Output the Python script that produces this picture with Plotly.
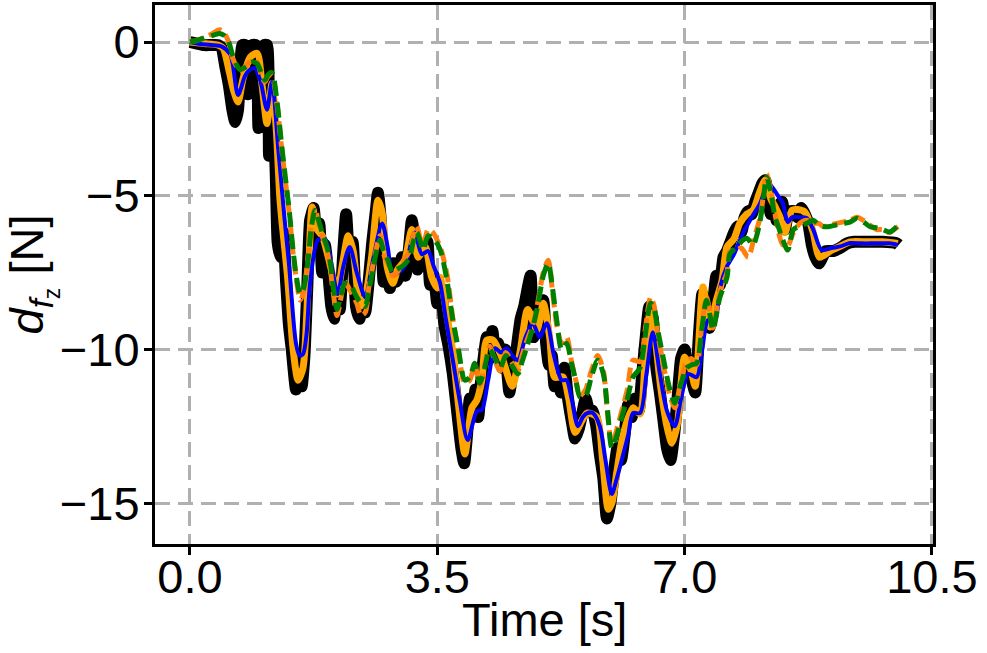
import plotly.graph_objects as go

# ---------------- data ----------------
black_t = [0.0, 0.1, 0.2, 0.3, 0.4, 0.45, 0.5, 0.55, 0.6, 0.64, 0.68, 0.71, 0.74, 0.78, 0.82, 0.85, 0.88, 0.93,
           0.97, 1.0, 1.02, 1.05, 1.09, 1.12, 1.15, 1.2, 1.24, 1.28, 1.32, 1.36, 1.4, 1.44, 1.5, 1.54, 1.58, 1.62,
           1.66, 1.7, 1.75, 1.79, 1.83, 1.87, 1.91, 1.96, 2.0, 2.04, 2.08, 2.12, 2.17, 2.21, 2.25, 2.3, 2.35, 2.4,
           2.44, 2.48, 2.52, 2.58, 2.63, 2.66, 2.7, 2.74, 2.78, 2.83, 2.88, 2.92, 2.96, 3.0, 3.05, 3.1, 3.14, 3.18,
           3.22, 3.27, 3.31, 3.36, 3.4, 3.45, 3.5, 3.55, 3.6, 3.66, 3.72, 3.78, 3.84, 3.88, 3.92, 3.96, 4.0, 4.04,
           4.08, 4.12, 4.16, 4.2, 4.24, 4.28, 4.32, 4.36, 4.42, 4.46, 4.52, 4.57, 4.62, 4.68, 4.73, 4.78, 4.82,
           4.86, 4.9, 4.95, 5.0, 5.04, 5.08, 5.12, 5.16, 5.2, 5.25, 5.3, 5.35, 5.4, 5.45, 5.5, 5.55, 5.6, 5.65,
           5.7, 5.75, 5.8, 5.85, 5.9, 5.95, 6.0, 6.05, 6.1, 6.15, 6.2, 6.25, 6.3, 6.35, 6.4, 6.45, 6.5, 6.55, 6.6,
           6.65, 6.7, 6.75, 6.8, 6.85, 6.9, 6.95, 7.0, 7.05, 7.1, 7.15, 7.2, 7.25, 7.3, 7.35, 7.4, 7.45, 7.5,
           7.55, 7.6, 7.65, 7.7, 7.75, 7.8, 7.85, 7.9, 7.95, 8.0, 8.05, 8.1, 8.14, 8.18, 8.22, 8.26, 8.3, 8.34,
           8.38, 8.42, 8.46, 8.5, 8.55, 8.6, 8.65, 8.7, 8.75, 8.8, 8.85, 8.9, 8.95, 9.0, 9.1, 9.2, 9.3, 9.4, 9.5,
           9.6, 9.8, 10.0, 10.03]
black_v = [0.0, -0.05, -0.1, -0.1, -0.1, -0.2, -0.8, -1.4, -2.2, -2.6, -2.2, -1.0, -0.1, -0.1, -1.7, -1.2, -0.1,
           -0.1, -2.8, -2.4, -2.0, -0.1, -0.1, -3.7, -3.2, -3.6, -6.5, -7.0, -6.2, -7.8, -9.2, -10.0, -11.3, -10.7,
           -11.2, -10.2, -8.0, -5.8, -5.4, -6.5, -5.9, -7.5, -6.6, -7.6, -8.6, -9.0, -8.0, -8.7, -6.8, -5.6, -6.8,
           -6.5, -8.6, -9.0, -8.2, -8.8, -8.0, -6.5, -5.5, -4.9, -5.8, -7.8, -7.2, -8.0, -7.2, -7.8, -7.6, -7.0,
           -7.6, -6.7, -5.8, -6.5, -7.4, -6.9, -6.9, -6.5, -7.9, -7.6, -8.5, -8.0, -9.2, -9.9, -10.8, -12.0, -13.2,
           -13.7, -12.8, -11.6, -12.2, -11.3, -12.2, -11.0, -10.2, -9.6, -10.3, -9.4, -10.2, -9.8, -10.6, -10.0,
           -11.4, -10.6, -10.0, -9.0, -8.6, -8.0, -7.6, -9.6, -9.0, -8.8, -8.4, -9.8, -10.5, -10.2, -11.2, -10.9,
           -11.4, -10.6, -11.6, -12.3, -12.9, -12.6, -12.1, -11.6, -12.0, -12.0, -12.5, -13.4, -14.2, -15.5, -15.0,
           -14.0, -13.2, -13.6, -12.8, -11.8, -12.2, -11.6, -12.0, -10.8, -9.6, -8.6, -9.0, -10.6, -11.4, -12.3,
           -13.2, -13.6, -12.8, -11.6, -10.3, -10.0, -10.8, -11.0, -11.4, -9.6, -8.2, -9.0, -9.3, -8.6, -7.6, -7.9,
           -7.0, -6.8, -6.5, -6.2, -6.0, -6.2, -5.7, -5.5, -5.6, -5.2, -4.9, -4.6, -4.5, -5.0, -5.6, -5.4, -5.8,
           -5.3, -5.2, -6.1, -5.6, -5.5, -5.5, -5.7, -5.4, -5.6, -5.9, -6.6, -7.0, -7.2, -7.0, -6.8, -6.8, -6.7,
           -6.55, -6.5, -6.5, -6.5, -6.5, -6.55, -6.6]

orange_t = [0.0, 0.2, 0.4, 0.47, 0.55, 0.62, 0.68, 0.75, 0.85, 0.95, 1.02, 1.09, 1.16, 1.22, 1.27, 1.3, 1.38,
            1.46, 1.53, 1.6, 1.67, 1.73, 1.8, 1.87, 2.01, 2.08, 2.16, 2.24, 2.31, 2.41, 2.48, 2.57, 2.66, 2.72,
            2.79, 2.87, 2.94, 3.04, 3.14, 3.23, 3.33, 3.42, 3.5, 3.54, 3.63, 3.72, 3.8, 3.89, 3.99, 4.06, 4.13,
            4.2, 4.29, 4.42, 4.56, 4.67, 4.78, 4.91, 5.0, 5.09, 5.16, 5.28, 5.36, 5.45, 5.55, 5.62, 5.76, 5.84,
            5.92, 5.97, 6.04, 6.11, 6.19, 6.27, 6.37, 6.44, 6.51, 6.58, 6.66, 6.75, 6.82, 6.9, 7.0, 7.08, 7.15,
            7.26, 7.36, 7.45, 7.53, 7.6, 7.7, 7.78, 7.88, 7.97, 8.06, 8.14, 8.22, 8.29, 8.35, 8.42, 8.52, 8.6,
            8.7, 8.76, 8.82, 8.91, 9.06, 9.2, 9.34, 9.6, 9.8, 10.02]
orange_v = [0.0, -0.05, -0.1, -0.2, -0.9, -1.6, -1.95, -1.2, -0.5, -0.37, -1.4, -2.65, -1.35, -2.8, -5.0, -5.8,
            -7.6, -10.0, -11.0, -10.6, -8.0, -5.37, -6.1, -6.3, -7.5, -8.2, -7.2, -6.3, -6.8, -8.6, -8.3, -7.0,
            -5.15, -5.56, -7.3, -7.85, -7.4, -7.1, -6.1, -7.0, -6.67, -7.65, -8.0, -7.65, -8.8, -10.1, -11.8,
            -13.4, -11.9, -11.65, -11.0, -9.7, -9.7, -10.3, -11.2, -10.1, -8.7, -9.37, -8.5, -9.6, -10.9, -10.9,
            -11.6, -12.7, -12.3, -12.07, -12.2, -13.6, -15.2, -15.0, -14.0, -13.0, -12.3, -11.9, -12.1, -10.4,
            -8.8, -9.6, -11.2, -12.5, -13.05, -12.4, -10.25, -10.6, -11.2, -7.97, -9.27, -8.4, -7.75, -6.67, -6.4,
            -5.9, -5.6, -5.47, -4.9, -4.49, -5.1, -5.4, -5.69, -6.2, -5.47, -5.45, -5.53, -5.8, -6.2, -7.0, -6.8,
            -6.65, -6.5, -6.5, -6.5, -6.55]

blue_t = [0.0, 0.1, 0.3, 0.45, 0.57, 0.68, 0.78, 0.85, 0.92, 1.0, 1.09, 1.16, 1.25, 1.34, 1.4, 1.5, 1.55, 1.6,
          1.65, 1.7, 1.81, 1.91, 2.0, 2.09, 2.17, 2.26, 2.36, 2.48, 2.58, 2.72, 2.8, 2.87, 2.95, 3.04, 3.18, 3.28,
          3.37, 3.45, 3.54, 3.62, 3.72, 3.82, 3.93, 4.06, 4.13, 4.22, 4.32, 4.4, 4.48, 4.56, 4.64, 4.75, 4.85,
          4.95, 5.05, 5.15, 5.26, 5.33, 5.4, 5.49, 5.56, 5.62, 5.7, 5.8, 5.88, 5.97, 6.04, 6.11, 6.2, 6.27, 6.37,
          6.46, 6.55, 6.65, 6.75, 6.86, 6.95, 7.05, 7.17, 7.25, 7.33, 7.43, 7.5, 7.6, 7.7, 7.83, 7.95, 8.07,
          8.18, 8.25, 8.32, 8.39, 8.46, 8.52, 8.59, 8.66, 8.73, 8.82, 8.94, 9.08, 9.2, 9.34, 9.5, 9.7, 9.9, 10.02]
blue_v = [0.0, -0.05, -0.1, -0.15, -0.4, -1.72, -1.1, -0.9, -0.85, -1.3, -2.2, -1.3, -3.5, -5.8, -7.2, -9.8,
          -10.2, -10.15, -9.5, -7.85, -6.44, -6.4, -7.2, -8.2, -7.3, -6.67, -7.5, -8.3, -7.2, -5.9, -6.7, -7.6,
          -7.5, -7.3, -6.2, -6.9, -6.8, -7.3, -7.85, -9.0, -10.35, -11.7, -12.95, -12.0, -11.97, -11.0, -9.96,
          -10.1, -9.96, -10.2, -10.35, -9.6, -9.15, -9.6, -9.15, -10.2, -11.0, -11.0, -11.6, -12.5, -12.2,
          -12.07, -12.07, -12.5, -13.6, -14.7, -14.2, -13.6, -12.8, -12.07, -12.07, -10.8, -9.44, -10.8, -12.0,
          -12.5, -11.6, -10.8, -10.9, -10.0, -9.05, -9.05, -8.0, -7.3, -6.9, -6.2, -5.7, -5.24, -4.6, -4.75,
          -5.0, -5.24, -5.86, -5.7, -5.69, -5.7, -5.73, -6.1, -6.77, -6.7, -6.65, -6.54, -6.55, -6.55, -6.55, -6.6]

green_t = [0.0, 0.1, 0.19, 0.3, 0.42, 0.48, 0.54, 0.6, 0.66, 0.71, 0.8, 0.88, 0.95, 1.01, 1.06, 1.11, 1.16, 1.23,
           1.29, 1.35, 1.41, 1.46, 1.51, 1.56, 1.61, 1.67, 1.72, 1.77, 1.82, 1.87, 1.93, 1.98, 2.03, 2.08, 2.13,
           2.19, 2.27, 2.36, 2.42, 2.48, 2.53, 2.57, 2.63, 2.69, 2.74, 2.8, 2.87, 2.93, 3.0, 3.05, 3.11, 3.16,
           3.21, 3.26, 3.3, 3.37, 3.44, 3.51, 3.56, 3.64, 3.72, 3.8, 3.89, 3.96, 4.03, 4.1, 4.17, 4.24, 4.32, 4.39,
           4.47, 4.55, 4.64, 4.7, 4.77, 4.85, 4.92, 5.0, 5.07, 5.13, 5.19, 5.26, 5.33, 5.4, 5.46, 5.52, 5.6, 5.68,
           5.77, 5.85, 5.91, 5.97, 6.04, 6.11, 6.19, 6.27, 6.37, 6.44, 6.52, 6.57, 6.62, 6.7, 6.78, 6.86, 6.95,
           7.03, 7.1, 7.17, 7.24, 7.31, 7.36, 7.4, 7.5, 7.6, 7.64, 7.72, 7.8, 7.88, 7.97, 8.02, 8.07, 8.12, 8.16,
           8.22, 8.28, 8.34, 8.39, 8.46, 8.54, 8.63, 8.73, 8.82, 8.9, 8.96, 9.05, 9.15, 9.25, 9.34, 9.44, 9.53,
           9.62, 9.72, 9.8, 9.9, 9.96, 10.02]
green_v = [0.0, 0.05, 0.12, 0.2, 0.28, 0.22, 0.05, -0.4, -0.75, -0.9, -0.8, -0.65, -0.7, -1.0, -1.24, -1.05,
           -1.0, -1.9, -3.2, -4.4, -5.6, -6.8, -7.7, -8.2, -8.0, -7.1, -6.0, -5.47, -5.8, -6.2, -6.6, -7.1, -8.0,
           -8.7, -8.3, -7.85, -7.9, -8.3, -8.5, -8.6, -8.1, -7.65, -6.9, -6.44, -6.8, -7.1, -7.5, -7.4, -7.3,
           -7.2, -7.0, -6.5, -6.2, -6.5, -6.77, -6.3, -6.4, -6.6, -6.9, -7.8, -9.05, -10.0, -11.0, -10.9, -10.45,
           -11.1, -10.6, -10.0, -10.3, -10.6, -10.2, -10.5, -10.8, -10.4, -9.9, -9.3, -8.6, -7.6, -7.2, -8.0,
           -9.05, -10.0, -9.8, -10.45, -11.0, -11.55, -11.5, -10.9, -10.35, -10.8, -12.0, -13.2, -12.8, -12.2,
           -11.6, -10.9, -10.6, -9.6, -8.5, -8.7, -9.37, -10.3, -11.2, -11.75, -11.1, -10.6, -10.5, -10.45, -9.4,
           -8.4, -8.9, -9.37, -8.3, -7.65, -6.9, -6.7, -6.5, -6.38, -6.6, -6.3, -5.8, -5.0, -4.39, -4.9, -5.69,
           -6.1, -6.44, -6.77, -6.1, -6.0, -5.9, -5.8, -5.95, -6.0, -6.0, -5.95, -5.9, -5.86, -5.73, -5.85, -6.0,
           -6.05, -6.1, -6.18, -6.1, -5.95]

orange_dash_t = [0.0, 0.1, 0.2, 0.3, 0.42, 0.48, 0.54, 0.6, 0.66, 0.71, 0.8, 0.88, 0.95, 1.01, 1.06, 1.11, 1.16,
                 1.23, 1.29, 1.35, 1.41, 1.46, 1.51, 1.56, 1.61, 1.67, 1.72, 1.77, 1.82, 1.87, 1.93, 1.98, 2.03,
                 2.08, 2.13, 2.19, 2.27, 2.36, 2.42, 2.48, 2.53, 2.57, 2.63, 2.69, 2.74, 2.8, 2.87, 2.93, 3.0,
                 3.05, 3.11, 3.16, 3.21, 3.26, 3.3, 3.37, 3.44, 3.51, 3.56, 3.64, 3.72, 3.8, 3.89, 3.96, 4.03,
                 4.1, 4.17, 4.24, 4.32, 4.39, 4.47, 4.55, 4.64, 4.7, 4.77, 4.85, 4.92, 5.0, 5.07, 5.13, 5.19,
                 5.26, 5.33, 5.4, 5.46, 5.52, 5.6, 5.68, 5.77, 5.85, 5.91, 5.97, 6.04, 6.11, 6.19, 6.27, 6.37,
                 6.44, 6.52, 6.57, 6.62, 6.7, 6.78, 6.86, 6.95, 7.03, 7.1, 7.17, 7.24, 7.31, 7.36, 7.4, 7.5, 7.6,
                 7.64, 7.72, 7.8, 7.9, 7.97, 8.02, 8.07, 8.12, 8.16, 8.22, 8.28, 8.34, 8.39, 8.45, 8.54, 8.63,
                 8.73, 8.82, 8.9, 8.96, 9.05, 9.15, 9.25, 9.34, 9.44, 9.53, 9.62, 9.72, 9.8, 9.9, 9.96, 10.02]
orange_dash_v = [0.0, 0.05, 0.15, 0.25, 0.4, 0.3, 0.05, -0.5, -0.8, -0.95, -0.75, -0.6, -0.65, -1.1, -1.3, -1.1,
                 -1.1, -2.0, -3.3, -4.5, -5.7, -6.9, -7.8, -8.4, -8.1, -7.0, -5.9, -5.4, -5.9, -6.3, -6.7, -7.3,
                 -8.2, -8.9, -8.4, -7.8, -8.1, -8.5, -8.9, -8.8, -8.0, -7.5, -6.8, -6.3, -6.9, -7.2, -7.6, -7.5,
                 -7.2, -7.0, -6.8, -6.3, -6.0, -6.4, -6.6, -6.1, -6.2, -6.5, -6.8, -7.6, -9.0, -10.1, -11.1,
                 -11.0, -10.5, -11.2, -10.5, -9.9, -10.4, -10.7, -10.1, -10.4, -10.7, -10.2, -9.7, -9.2, -8.5,
                 -7.5, -7.1, -8.1, -9.2, -9.8, -9.6, -10.4, -11.0, -11.5, -11.3, -10.7, -10.2, -10.7, -12.1,
                 -13.1, -12.6, -12.0, -11.3, -10.35, -10.4, -9.4, -8.3, -8.6, -9.5, -10.5, -11.4, -11.9, -11.0,
                 -10.4, -10.3, -10.5, -9.3, -8.3, -8.8, -9.3, -8.1, -7.5, -6.8, -6.8, -6.7, -7.0, -6.5, -6.1,
                 -5.7, -4.9, -4.3, -4.8, -5.6, -6.3, -6.6, -6.67, -6.2, -5.9, -5.8, -5.9, -5.9, -6.0, -5.95,
                 -5.9, -5.85, -5.8, -5.7, -5.8, -5.95, -6.1, -6.1, -6.2, -6.1, -6.0]

x_tick_vals = [0.0, 3.5, 7.0, 10.5]
x_tick_text = ["0.0", "3.5", "7.0", "10.5"]
y_tick_vals = [0, -5, -10, -15]
y_tick_text = ["0", "\u22125", "\u221210", "\u221215"]
x_title = "Time [s]"
y_title = "<i>d</i><sub><i>f</i><sub>z</sub></sub> [N]"

# ---------------- figure ----------------
FONT = "Liberation Sans, Arial, sans-serif"
fig = go.Figure()
fig.add_trace(go.Scatter(x=black_t, y=black_v, mode="lines",
                         line=dict(color="#000000", width=12, shape="spline", smoothing=0.5),
                         showlegend=False))
fig.add_trace(go.Scatter(x=orange_t, y=orange_v, mode="lines",
                         line=dict(color="#FFA500", width=7, shape="spline", smoothing=0.7),
                         showlegend=False))
fig.add_trace(go.Scatter(x=blue_t, y=blue_v, mode="lines",
                         line=dict(color="#0000FF", width=4, shape="spline", smoothing=0.8),
                         showlegend=False))
fig.add_trace(go.Scatter(x=orange_dash_t, y=orange_dash_v, mode="lines",
                         line=dict(color="#FF7F0E", width=5, dash="14px,6px", shape="spline", smoothing=0.8),
                         showlegend=False))
fig.add_trace(go.Scatter(x=green_t, y=green_v, mode="lines",
                         line=dict(color="#008000", width=5, dash="15px,7px", shape="spline", smoothing=0.8),
                         showlegend=False))

axis_common = dict(
    showline=True, linecolor="black", linewidth=3, mirror=True,
    ticks="outside", ticklen=8, tickwidth=3, tickcolor="black",
    showgrid=True, gridcolor="#b0b0b0", gridwidth=3, griddash="15px,8px",
    zeroline=False, automargin=False,
    tickfont=dict(family=FONT, size=47, color="black"),
)

fig.update_xaxes(range=[-0.495, 10.515], tickmode="array", tickvals=x_tick_vals, ticktext=x_tick_text,
                 ticklabelstandoff=-18, **axis_common)
fig.update_yaxes(range=[-16.33, 1.204], tickmode="array", tickvals=y_tick_vals, ticktext=y_tick_text,
                 ticklabelstandoff=-5,
                 title=dict(text=y_title, font=dict(family=FONT, size=47, color="black"), standoff=8),
                 **axis_common)

fig.add_annotation(text=x_title, xref="paper", yref="paper", x=0.5, y=-0.141,
                   xanchor="center", yanchor="middle", showarrow=False,
                   font=dict(family=FONT, size=47, color="black"))

fig.update_layout(
    width=987, height=653,
    margin=dict(l=155, r=54, t=5, b=109),
    plot_bgcolor="white", paper_bgcolor="white",
    showlegend=False,
)

fig.write_html("out.html", config={"displayModeBar": False},
               post_script="document.body.style.margin='0px';")
